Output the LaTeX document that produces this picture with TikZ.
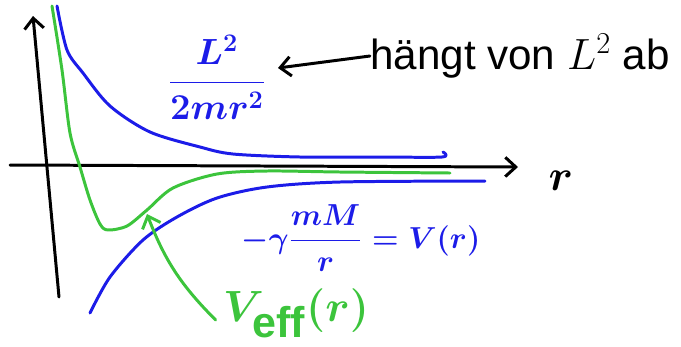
\documentclass[tikz,border=0pt]{standalone}
\usepackage{amsmath}
\usepackage{fontspec}
\setmainfont{Liberation Sans}
\usetikzlibrary{arrows.meta}
\definecolor{penblue}{HTML}{1C1CE8}
\definecolor{pengreen}{HTML}{3CC43C}

\begin{document}
\begin{tikzpicture}[x=0.02cm,y=-0.02cm,
  pen/.style={line width=1.7pt,line cap=round,line join=round},
  lab/.style={inner sep=0pt,anchor=center},
  >={Straight Barb[length=6pt,width=11pt]}]
  \useasboundingbox (0,0) rectangle (681,346);
  \coordinate (yfoot) at (59,297);
  \coordinate (ytop) at (33,16);
  \coordinate (xleft) at (10,165);
  \coordinate (xright) at (518,167);
  \draw[pen,->] (yfoot) -- (ytop);
  \draw[pen,->] (xleft) -- (xright);
  \draw[pen,penblue] plot[smooth] coordinates {(57,6) (67,50) (83,73) (110,106) (150,132) (200,147) (233,154) (300,157) (380,157) (442,157) (443,152)};
  \draw[pen,pengreen] plot[smooth] coordinates {(52,6) (62,70) (70,133) (80,167) (90,200) (100,224) (108,230) (127,226) (147,210) (173,188) (217,174) (267,171) (340,172) (450,173)};
  \draw[pen,penblue] plot[smooth] coordinates {(90,313) (110,277) (143,240) (177,217) (217,198) (267,187) (340,182) (485,181)};
  \node[lab,text=penblue,font=\fontsize{20}{24}\selectfont\boldmath] (kin) at (217,77) {$\dfrac{L^2}{2mr^2}$};
  \node[lab,font=\fontsize{24}{28}\selectfont] (hint) at (520,56) {hängt von $L^2$ ab};
  \node[lab,text=penblue,font=\fontsize{17}{21}\selectfont\boldmath] (pot) at (361,238) {$-\gamma\dfrac{mM}{r}=V(r)$};
  \node[lab,text=pengreen,font=\fontsize{35}{40}\selectfont\boldmath] (veff) at (296,313) {$V_{\mathrm{eff}}(r)$};
  \node[lab,font=\fontsize{24}{28}\selectfont\boldmath] (rlab) at (561,181) {$r$};
  \coordinate (kintip) at (278,68);
  \coordinate (veffpt) at (147,214);
  \draw[pen,->] (hint.west) -- (kintip);
  \draw[pen,pengreen,->] ([xshift=-4pt,yshift=-4pt]veff.west) to[bend left=12] (veffpt);
\end{tikzpicture}
\end{document}
